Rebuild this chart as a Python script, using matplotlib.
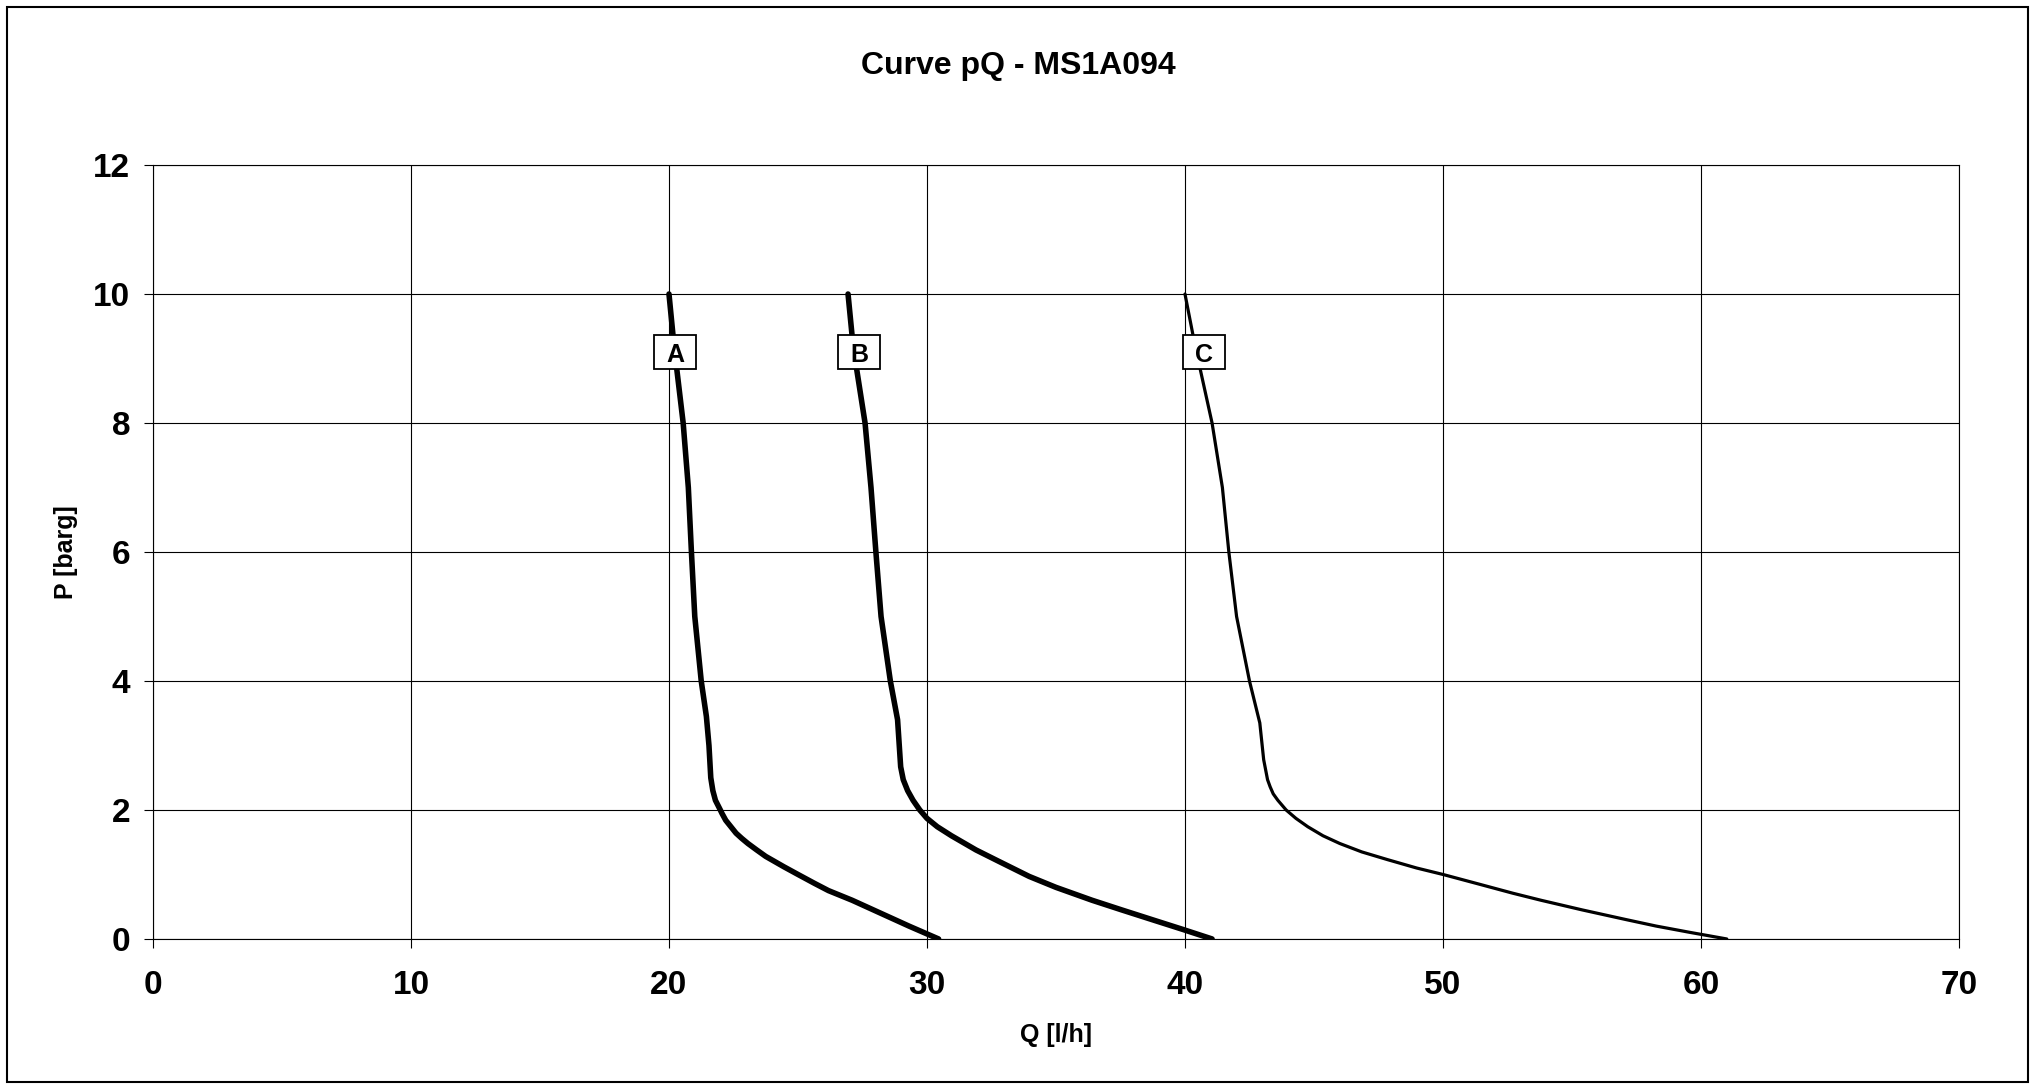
#  pQ curve for valve MS1A094 - three springs A, B, C
#  Run with: python3 plot.py  (writes out.png)

import matplotlib
matplotlib.use("Agg")
import matplotlib.pyplot as plt
from matplotlib.patches import Rectangle

# values (P in barg, Q in l/h)
p_a = [10, 9.18, 8, 7, 6, 5, 4, 3.45, 3.0, 2.5, 2.3, 2.15, 2.0, 1.95, 1.84, 1.75, 1.64, 1.56, 1.48,
       1.38, 1.28, 1.12, 1.0, 0.86, 0.75, 0.6, 0.4, 0.2, 0]
q_a = [20.0, 20.2, 20.55, 20.75, 20.87, 21.0, 21.25, 21.45, 21.55, 21.62, 21.7, 21.8, 21.99, 22.05, 22.2, 22.38, 22.6, 22.82, 23.06,
       23.4, 23.75, 24.45, 25.0, 25.65, 26.18, 27.1, 28.2, 29.3, 30.45]

p_b = [10, 9.18, 8, 7, 6, 5, 4, 3.4, 2.67, 2.47, 2.3, 2.15, 2.0, 1.87, 1.74, 1.6, 1.38, 1.2,
       0.97, 0.8, 0.6, 0.45, 0.29, 0.15, 0]
q_b = [26.94, 27.14, 27.6, 27.83, 28.02, 28.22, 28.58, 28.86, 28.98, 29.08, 29.25, 29.46, 29.72, 30.0, 30.4, 30.95, 31.9, 32.8,
       33.96, 35.0, 36.4, 37.55, 38.8, 39.9, 41.05]

p_c = [10, 9.18, 8, 7, 6, 5, 4, 3.35, 2.78, 2.47, 2.36, 2.25, 2.15, 2.0, 1.87, 1.74, 1.6, 1.48, 1.35,
       1.23, 1.1, 1.0, 0.85, 0.71, 0.6, 0.45, 0.3, 0.2, 0.1, 0]
q_c = [40.0, 40.4, 41.05, 41.45, 41.7, 42.0, 42.5, 42.9, 43.05, 43.2, 43.3, 43.42, 43.6, 43.92, 44.3, 44.76, 45.35, 46.0, 46.85,
       47.85, 48.98, 50.0, 51.4, 52.7, 53.8, 55.4, 57.1, 58.26, 59.6, 61.0]

curve_names = ["A", "B", "C"]
label_q = [20.25, 27.38, 40.75]     # where the letter boxes sit
label_p = [9.1, 9.1, 9.1]

x_ticks = [0, 10, 20, 30, 40, 50, 60, 70]
y_ticks = [0, 2, 4, 6, 8, 10, 12]

plt.rcParams['font.family'] = ['Liberation Sans', 'DejaVu Sans']
plt.rcParams['font.weight'] = 'bold'

fig = plt.figure(figsize=(20.37, 10.85), dpi=100)
ax = fig.add_axes([0.0751, 0.1346, 0.8866, 0.7133])

# grid first so the curves sit on top
ax.set_xlim(0, 70)
ax.set_ylim(0, 12)
ax.set_xticks(x_ticks)
ax.set_yticks(y_ticks)
ax.grid(True, color='black', linewidth=0.8)
ax.set_axisbelow(True)
for s in ax.spines.values():
    s.set_color('black')
    s.set_linewidth(0.8)

ax.plot(q_a, p_a, color='black', linewidth=4.0, solid_capstyle='round', solid_joinstyle='round', zorder=3)
ax.plot(q_b, p_b, color='black', linewidth=4.0, solid_capstyle='round', solid_joinstyle='round', zorder=3)
ax.plot(q_c, p_c, color='black', linewidth=2.3, solid_capstyle='round', solid_joinstyle='round', zorder=3)

# letter tags: fixed size box (about 42 x 35 px) with the letter in the middle
box_w = 1.63
box_h = 0.54
for i in range(len(curve_names)):
    ax.add_patch(Rectangle((label_q[i] - box_w / 2, label_p[i] - box_h / 2), box_w, box_h,
                           facecolor='white', edgecolor='black', linewidth=1.3, zorder=4))
    ax.text(label_q[i], label_p[i], curve_names[i], fontsize=18, fontweight='bold',
            ha='center', va='center_baseline', zorder=5)

ax.tick_params(axis='both', direction='out', length=6.5, width=0.8, labelsize=24, color='black')
ax.tick_params(axis='x', pad=16)
ax.tick_params(axis='y', pad=10)
for lbl in ax.get_xticklabels() + ax.get_yticklabels():
    lbl.set_fontweight('bold')

ax.set_xlabel("Q [l/h]", fontsize=18, fontweight='bold')
ax.set_ylabel("P [barg]", fontsize=18, fontweight='bold')
ax.xaxis.set_label_coords(0.5, -0.124)
ax.xaxis.label.set_va('center')
ax.yaxis.set_label_coords(-0.048, 0.5)
ax.yaxis.label.set_va('center')

fig.text(0.5, 0.939, "Curve pQ - MS1A094", fontsize=23, fontweight='bold', ha='center', va='center')

# thin frame round the whole chart
fig.patches.append(Rectangle((0.0034, 0.0028), 0.9922, 0.9907, transform=fig.transFigure,
                             fill=False, edgecolor='black', linewidth=1.5))

fig.savefig("out.png", dpi=100)
